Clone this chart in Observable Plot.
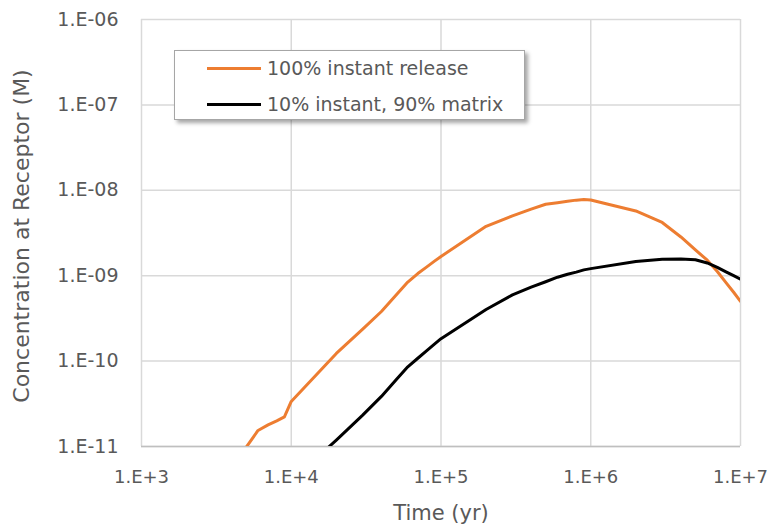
<!DOCTYPE html>
<html>
<head>
<meta charset="utf-8">
<script src="https://cdn.jsdelivr.net/npm/d3@7"></script>
<script src="https://cdn.jsdelivr.net/npm/@observablehq/plot@0.6"></script>
<style>
  body { margin: 0; background: #fff; }
  #wrap { position: relative; width: 767px; height: 527px; font-family: "DejaVu Sans", sans-serif; color: #595959; }
  #ytitle { position: absolute; left: 21px; top: 236px; transform: translate(-50%, -50%) rotate(-90deg); white-space: nowrap; font-size: 22px; }
  #legend { position: absolute; left: 174px; top: 50px; width: 351px; height: 70px; background: #fff; border: 1px solid #a6a6a6; box-shadow: 3px 3px 4px rgba(0,0,0,0.35); box-sizing: border-box; }
  .item { position: absolute; left: 32px; height: 22px; display: flex; align-items: center; font-size: 19px; white-space: nowrap; }
  .swatch { width: 54px; height: 3px; margin-right: 6px; }
</style>
</head>
<body>
<div id="wrap"></div>
<script>
// ---- data ----
const times = [5e3, 6e3, 7e3, 8e3, 9e3, 1e4, 2e4, 3e4, 4e4, 5e4, 6e4, 7e4, 8e4, 9e4,
  1e5, 2e5, 3e5, 4e5, 5e5, 6e5, 7e5, 8e5, 9e5, 1e6, 2e6, 3e6, 4e6, 5e6, 6e6, 7e6, 8e6, 9e6, 1e7];
const instantRelease = [9.8e-12, 1.54e-11, 1.79e-11, 2.0e-11, 2.22e-11, 3.37e-11, 1.23e-10, 2.37e-10, 3.81e-10,
  5.9e-10, 8.43e-10, 1.06e-9, 1.26e-9, 1.47e-9, 1.68e-9, 3.79e-9, 5.02e-9, 6.03e-9, 6.87e-9, 7.16e-9,
  7.43e-9, 7.67e-9, 7.8e-9, 7.7e-9, 5.73e-9, 4.2e-9, 2.84e-9, 2.0e-9, 1.52e-9, 1.12e-9, 8.3e-10, 6.4e-10, 5.0e-10];
const matrixRelease = [null, null, null, null, null, 3.9e-12, 1.19e-11, 2.33e-11, 3.86e-11, 6.0e-11,
  8.57e-11, 1.08e-10, 1.32e-10, 1.57e-10, 1.83e-10, 4.02e-10, 5.96e-10, 7.35e-10, 8.5e-10, 9.6e-10,
  1.04e-9, 1.1e-9, 1.17e-9, 1.21e-9, 1.47e-9, 1.56e-9, 1.57e-9, 1.54e-9, 1.41e-9, 1.25e-9, 1.11e-9, 1.0e-9, 9.1e-10];
const seriesNames = ["100% instant release", "10% instant, 90% matrix"];
const seriesColors = ["#ed7d31", "#000000"];
const xTicks = [1e3, 1e4, 1e5, 1e6, 1e7];
const xTickLabels = ["1.E+3", "1.E+4", "1.E+5", "1.E+6", "1.E+7"];
const yTicks = [1e-11, 1e-10, 1e-9, 1e-8, 1e-7, 1e-6];
const yTickLabels = ["1.E-11", "1.E-10", "1.E-09", "1.E-08", "1.E-07", "1.E-06"];
const xTitle = "Time (yr)";
const yTitle = "Concentration at Receptor (M)";

const rows = [];
times.forEach((t, i) => {
  if (instantRelease[i] != null) rows.push({t, v: instantRelease[i], s: seriesNames[0]});
});
times.forEach((t, i) => {
  if (matrixRelease[i] != null) rows.push({t, v: matrixRelease[i], s: seriesNames[1]});
});

const plot = Plot.plot({
  width: 767,
  height: 527,
  marginLeft: 141,
  marginRight: 27,
  marginTop: 19,
  marginBottom: 81,
  style: { fontFamily: "DejaVu Sans, sans-serif", fontSize: "19px", color: "#595959", background: "#fff", overflow: "visible" },
  x: { type: "log", domain: [xTicks[0], xTicks[xTicks.length - 1]] },
  y: { type: "log", domain: [yTicks[0], yTicks[yTicks.length - 1]] },
  color: { domain: seriesNames, range: seriesColors },
  marks: [
    Plot.gridX(xTicks, { stroke: "#d9d9d9", strokeOpacity: 1, strokeWidth: 1.5 }),
    Plot.gridY(yTicks, { stroke: "#d9d9d9", strokeOpacity: 1, strokeWidth: 1.5 }),
    Plot.ruleY([yTicks[0]], { stroke: "#bfbfbf", strokeWidth: 1.5 }),
    Plot.axisX(xTicks, { tickSize: 0, tickPadding: 24, fontSize: 18, tickFormat: (d) => xTickLabels[xTicks.indexOf(d)], label: null, fill: "#595959" }),
    Plot.axisY(yTicks, { tickSize: 0, tickPadding: 23, tickFormat: (d) => yTickLabels[yTicks.indexOf(d)], label: null, fill: "#595959" }),
    Plot.line(rows, { x: "t", y: "v", z: "s", stroke: "s", strokeWidth: 3, strokeLinejoin: "round", clip: true }),
    Plot.text([xTitle], { frameAnchor: "bottom", dy: 67, fontSize: 21, fill: "#595959", lineAnchor: "middle" })
  ]
});

const wrap = document.getElementById("wrap");
wrap.appendChild(plot);

const yt = document.createElement("div");
yt.id = "ytitle";
yt.textContent = yTitle;
wrap.appendChild(yt);

const legend = document.createElement("div");
legend.id = "legend";
seriesNames.forEach((name, i) => {
  const item = document.createElement("div");
  item.className = "item";
  item.style.top = (i === 0 ? 6 : 42) + "px";
  const sw = document.createElement("div");
  sw.className = "swatch";
  sw.style.background = seriesColors[i];
  const tx = document.createElement("span");
  tx.textContent = name;
  item.appendChild(sw);
  item.appendChild(tx);
  legend.appendChild(item);
});
wrap.appendChild(legend);
</script>
</body>
</html>
